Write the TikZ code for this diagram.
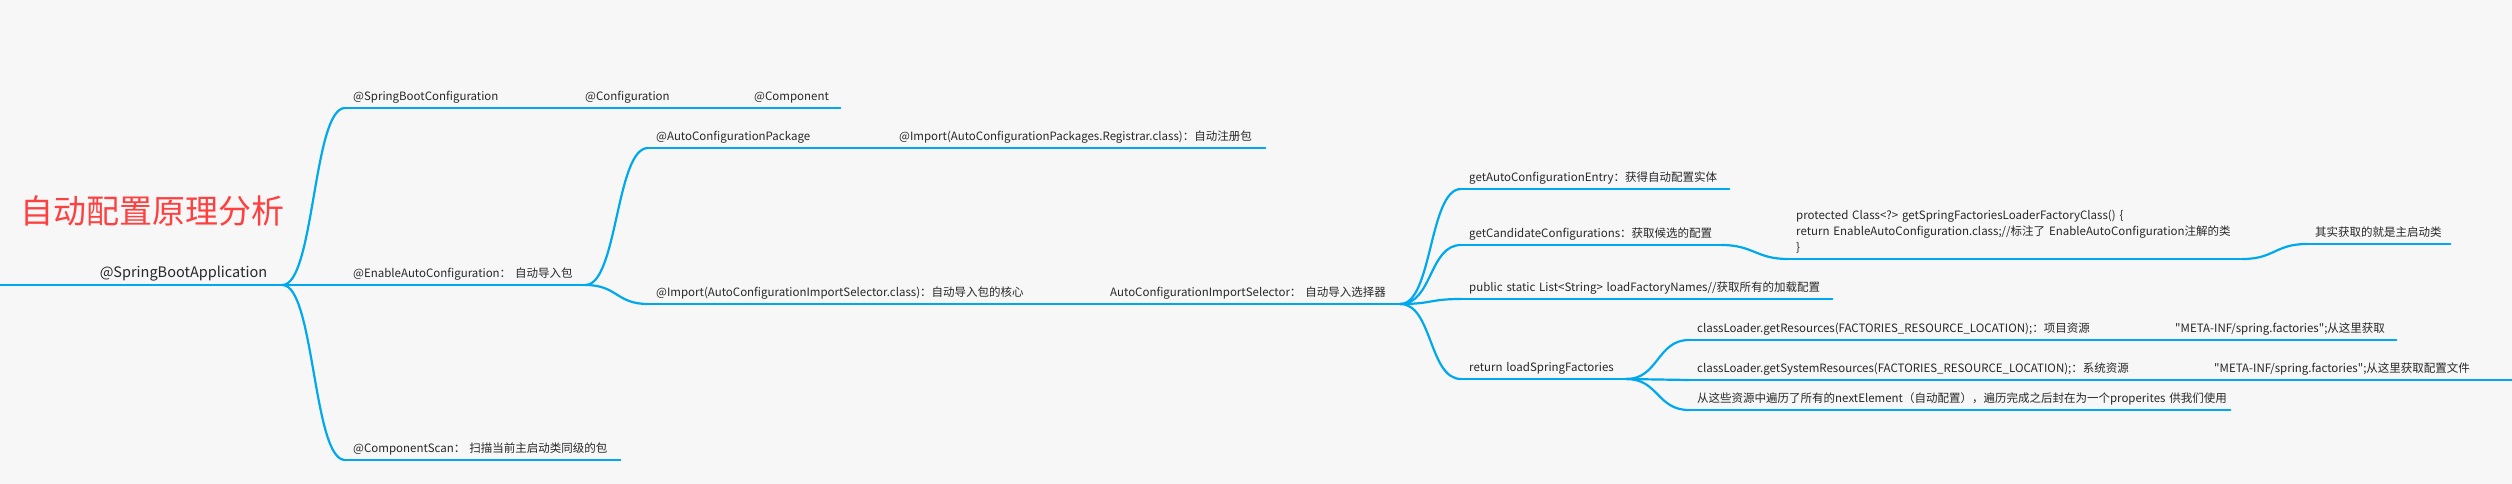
\documentclass[tikz,border=0pt]{standalone}
\usepackage{fontspec}
\setmainfont{Noto Sans CJK SC}[Ligatures=TeXOff]
\usepackage{tikz}
\definecolor{mapblue}{RGB}{0,169,238}
\definecolor{maptext}{RGB}{40,40,40}
\definecolor{mapred}{RGB}{255,64,64}
\definecolor{mapback}{RGB}{247,247,247}
\newcommand{\mapfont}{\fontsize{11.5}{16}\selectfont}
\newcommand{\rootfont}{\fontsize{14.5}{18}\selectfont}
\newcommand{\titlefont}{\fontsize{33}{36}\selectfont}
\tikzset{
  topic/.style={anchor=south west, inner xsep=8pt, inner ysep=7pt, text depth=0pt,
    text width=#1, align=left, font=\mapfont, text=maptext,
    execute at begin node={\exhyphenpenalty=10000\hyphenpenalty=10000}},
  branch/.style={mapblue, line width=2.2pt, line cap=round},
}

\begin{document}
\begin{tikzpicture}[x=1pt,y=-1pt]
\fill[mapback] (0,0) rectangle (2512,484);
\useasboundingbox (0,0) rectangle (2512,484);
\node[anchor=base west, inner sep=0pt, font=\titlefont, text=mapred] (title) at (20,223) {自动配置原理分析};
%------------------
\node[topic=252pt, align=right, inner xsep=15pt, font=\rootfont] (app) at (0,285) {@SpringBootApplication};
\node[topic=149pt] (sbc) at (345,108) {@SpringBootConfiguration};
\node[topic=88pt] (cfg) at (577,108) {@Configuration};
\node[topic=78pt] (comp) at (746,108) {@Component};
\node[topic=224pt] (eac) at (345,285) {@EnableAutoConfiguration：~自动导入包};
\node[topic=259pt] (scan) at (345,460) {@ComponentScan：~扫描当前主启动类同级的包};
%------------------
\node[topic=161pt] (acp) at (648,148) {@AutoConfigurationPackage};
\node[topic=358pt] (reg) at (891,148) {@Import(AutoConfigurationPackages.Registrar.class)：自动注册包};
\node[topic=372pt] (ais) at (648,304) {@Import(AutoConfigurationImportSelector.class)：自动导入包的核心};
\node[topic=282pt] (sel) at (1102,304) {AutoConfigurationImportSelector：~自动导入选择器};
%------------------
\node[topic=252pt] (entry) at (1461,189) {getAutoConfigurationEntry：获得自动配置实体};
\node[topic=244pt] (cand) at (1461,245) {getCandidateConfigurations：获取候选的配置};
\node[topic=438pt, text depth=32pt] (prot) at (1788,259) {protected~Class<?>~getSpringFactoriesLoaderFactoryClass()~\{\\
  return~EnableAutoConfiguration.class;//标注了~EnableAutoConfiguration注解的类\\ \}};
\node[topic=127pt] (main) at (2307,244) {其实获取的就是主启动类};
\node[topic=355pt] (names) at (1461,299) {public~static~List<String>~loadFactoryNames//获取所有的加载配置};
\node[topic=149pt] (load) at (1461,379) {return~loadSpringFactories};
%------------------
\node[topic=394pt] (res) at (1689,340) {classLoader.getResources(FACTORIES\_RESOURCE\_LOCATION);：项目资源};
\node[topic=213pt] (resf) at (2167,340) {"META-INF/spring.factories";从这里获取};
\node[topic=434pt] (sys) at (1689,380) {classLoader.getSystemResources(FACTORIES\_RESOURCE\_LOCATION);：系统资源};
\node[topic=259pt] (sysf) at (2206,380) {"META-INF/spring.factories";从这里获取配置文件};
\node[topic=525pt] (iter) at (1689,410) {从这些资源中遍历了所有的nextElement（自动配置），遍历完成之后封在为一个properites~供我们使用};
\coordinate (edge) at (2512,380);
%------------------
\foreach \n in {app,sbc,cfg,comp,eac,scan,acp,reg,ais,sel,entry,cand,prot,main,names,load,res,resf,sys,sysf,iter}
  \draw[branch] (\n.south west) -- (\n.south east);
\foreach \a/\b in {app/sbc,app/eac,app/scan,sbc/cfg,cfg/comp,eac/acp,eac/ais,acp/reg,ais/sel,
  sel/entry,sel/cand,sel/names,sel/load,cand/prot,prot/main,load/res,load/sys,load/iter,res/resf,sys/sysf}
  \draw[branch] (\a.south east) .. controls +(32,0) and +(-32,0) .. (\b.south west);
\draw[branch] (sysf.south east) -- (edge);
\end{tikzpicture}
\end{document}
